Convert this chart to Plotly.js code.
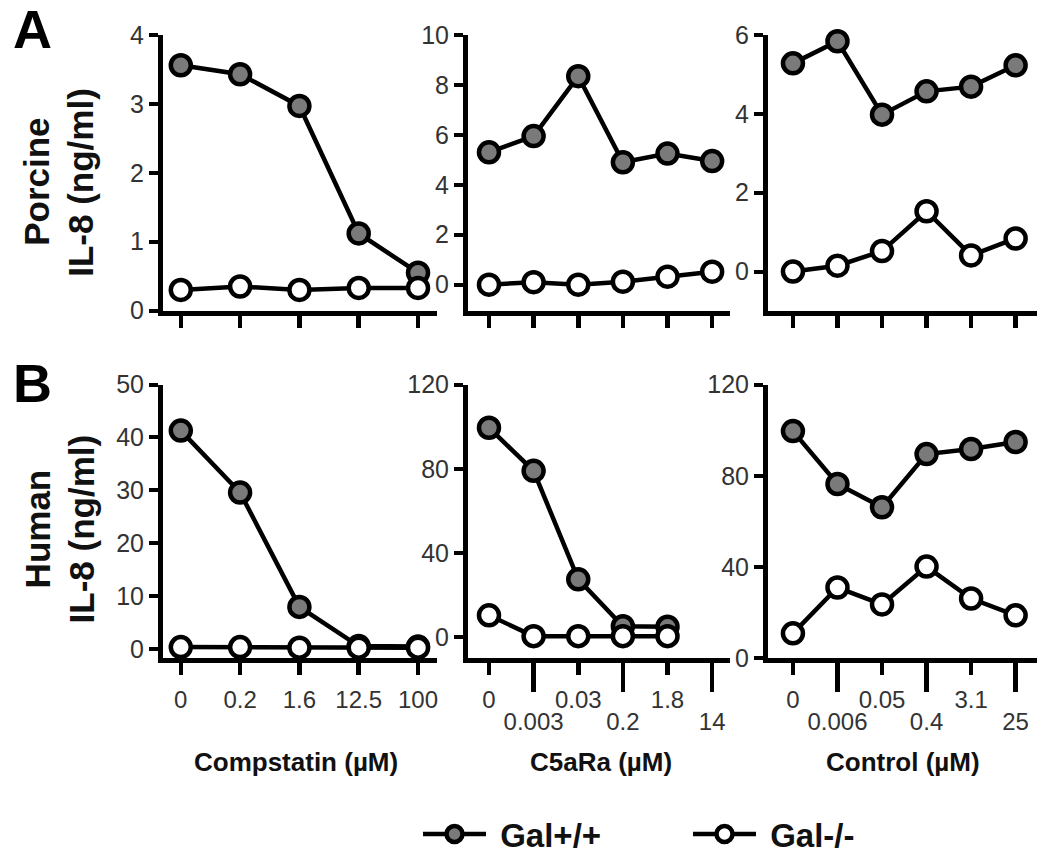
<!DOCTYPE html>
<html>
<head>
<meta charset="utf-8">
<script src="https://cdn.plot.ly/plotly-3.0.1.min.js"></script>
<style>html,body{margin:0;padding:0;background:#fff;}#chart{width:1050px;height:862px;}</style>
</head>
<body>
<div id="chart"></div>
<script>
// ---- categories (tick labels) ----
const compstatinX = ['0', '0.2', '1.6', '12.5', '100'];
const c5aRaX = ['0', '0.003', '0.03', '0.2', '1.8', '14'];
const controlX = ['0', '0.006', '0.05', '0.4', '3.1', '25'];

// ---- Porcine IL-8 (ng/ml) ----
const porcineCompGalPos = [3.56, 3.43, 2.97, 1.12, 0.55];
const porcineCompGalNeg = [0.30, 0.35, 0.30, 0.33, 0.33];
const porcineC5aGalPos = [5.3, 5.95, 8.35, 4.9, 5.25, 4.95];
const porcineC5aGalNeg = [0.0, 0.1, 0.0, 0.12, 0.32, 0.52];
const porcineCtrlGalPos = [5.28, 5.84, 3.98, 4.57, 4.69, 5.23];
const porcineCtrlGalNeg = [0.0, 0.15, 0.52, 1.53, 0.41, 0.84];

// ---- Human IL-8 (ng/ml) ----
const humanCompGalPos = [41.3, 29.6, 8.0, 0.6, 0.5];
const humanCompGalNeg = [0.4, 0.4, 0.3, 0.3, 0.3];
const humanC5aGalPos = [99.5, 79, 27.5, 5.2, 5.0];
const humanC5aGalNeg = [10.4, 0.5, 0.5, 0.5, 0.5];
const humanCtrlGalPos = [99.6, 76.4, 66.2, 89.5, 91.7, 94.8];
const humanCtrlGalNeg = [10.9, 31, 23.6, 40.2, 26.2, 18.8];

const seriesNames = ['Gal+/+', 'Gal-/-'];
const panelTitles = ['Compstatin (µM)', 'C5aRa (µM)', 'Control (µM)'];

// ---- layout helpers ----
const W = 1050, H = 862;
const px = v => v / W;
const py = v => 1 - v / H;
const FONT = 'Liberation Sans, Arial, Helvetica, sans-serif';

const colDom = [[163, 437], [468, 730], [768, 1037]];
const rowDom = [[35, 311], [385, 659]];
const xRanges = [[-0.30, 4.32], [-0.47, 5.40], [-0.56, 5.48]];
const yRanges = [[0, 4], [-1.04, 10], [-0.99, 6], [-1.7, 50], [-10, 120], [0, 120]];
const yTicks = [[0,1,2,3,4],[0,2,4,6,8,10],[0,2,4,6],[0,10,20,30,40,50],[0,40,80,120],[0,40,80,120]];

const cats = [compstatinX, c5aRaX, controlX];
const data = [
  [porcineCompGalPos, porcineCompGalNeg],
  [porcineC5aGalPos, porcineC5aGalNeg],
  [porcineCtrlGalPos, porcineCtrlGalNeg],
  [humanCompGalPos, humanCompGalNeg],
  [humanC5aGalPos, humanC5aGalNeg],
  [humanCtrlGalPos, humanCtrlGalNeg]
];

const traces = [];
const layout = {
  width: W, height: H,
  margin: {l: 0, r: 0, t: 0, b: 0},
  paper_bgcolor: '#fff', plot_bgcolor: 'rgba(0,0,0,0)',
  font: {family: FONT, color: '#000'},
  showlegend: true,
  legend: {
    orientation: 'h', x: px(418), y: py(807), xanchor: 'left', yanchor: 'top',
    font: {family: FONT, size: 33, weight: 'bold', color: '#111'},
    itemwidth: 63, entrywidth: 192, bgcolor: 'rgba(0,0,0,0)'
  },
  annotations: [],
};

for (let p = 0; p < 6; p++) {
  const r = Math.floor(p / 3), c = p % 3;
  const idx = p + 1;
  const xa = 'xaxis' + (idx === 1 ? '' : idx);
  const ya = 'yaxis' + (idx === 1 ? '' : idx);
  const xr = 'x' + (idx === 1 ? '' : idx);
  const yr = 'y' + (idx === 1 ? '' : idx);
  const catList = cats[c];
  const bottom = r === 1;
  const stagger = bottom && c > 0;
  layout[xa] = {
    domain: [px(colDom[c][0]), px(colDom[c][1])],
    anchor: yr, type: 'category', categoryarray: catList, categoryorder: 'array',
    range: xRanges[c], showline: true, linewidth: 5, linecolor: '#000',
    ticks: 'outside', ticklen: 12, tickwidth: 4.5, tickcolor: '#000',
    tickmode: 'array',
    tickvals: stagger ? catList.filter((_, i) => i % 2 === 0) : catList,
    ticktext: stagger ? catList.filter((_, i) => i % 2 === 0) : catList,
    showticklabels: bottom, ticklabelstandoff: 4,
    tickfont: {family: FONT, size: 24, color: '#333'},
    showgrid: false, zeroline: false, fixedrange: true
  };
  layout[ya] = {
    domain: [py(rowDom[r][1]), py(rowDom[r][0])],
    anchor: xr, range: yRanges[p], tickmode: 'array', tickvals: yTicks[p],
    showline: true, linewidth: 5, linecolor: '#000',
    ticks: 'outside', ticklen: 9, tickwidth: 4, tickcolor: '#000',
    tickfont: {family: FONT, size: 25, color: '#333'},
    showgrid: false, zeroline: false, fixedrange: true
  };
  const series = data[p];
  for (let s = 0; s < 2; s++) {
    traces.push({
      type: 'scatter', mode: 'lines+markers',
      x: catList.slice(0, series[s].length), y: series[s],
      xaxis: xr, yaxis: yr, name: '\u00a0' + seriesNames[s],
      legendgroup: seriesNames[s], showlegend: p === 0,
      line: {color: '#000', width: 4.5},
      marker: {size: 20, color: s === 0 ? '#7a7a7a' : '#ffffff', line: {color: '#000', width: 4.5}},
      cliponaxis: false, hoverinfo: 'skip'
    });
  }
}

// staggered (long-tick) labels on overlay axes for the lower C5aRa and Control panels
[[5, 7], [6, 8]].forEach(([base, ov]) => {
  const c = base - 4;
  const catList = cats[c];
  const odd = catList.filter((_, i) => i % 2 === 1);
  layout['xaxis' + ov] = {
    overlaying: 'x' + base, anchor: 'y' + base,
    domain: [px(colDom[c][0]), px(colDom[c][1])],
    type: 'category', categoryarray: catList, categoryorder: 'array',
    range: xRanges[c], showline: false,
    ticks: 'outside', ticklen: 33, tickwidth: 4.5, tickcolor: '#000',
    tickmode: 'array', tickvals: odd, ticktext: odd, ticklabelstandoff: 9,
    tickfont: {family: FONT, size: 24, color: '#333'},
    showgrid: false, zeroline: false, fixedrange: true
  };
  traces.push({type: 'scatter', mode: 'markers', x: odd, y: odd.map(() => null),
    xaxis: 'x' + ov, yaxis: 'y' + base, showlegend: false, hoverinfo: 'skip',
    marker: {opacity: 0}});
});

// axis titles and panel labels
const titleCenters = [296, 601, 903];
panelTitles.forEach((t, i) => layout.annotations.push({
  xref: 'paper', yref: 'paper', x: px(titleCenters[i]), y: py(763),
  xanchor: 'center', yanchor: 'middle', showarrow: false, text: t,
  font: {family: FONT, size: 26, weight: 'bold', color: '#111'}
}));
[['A', 32, 29], ['B', 32, 383]].forEach(([t, x, y]) => layout.annotations.push({
  xref: 'paper', yref: 'paper', x: px(x), y: py(y), xanchor: 'center', yanchor: 'middle',
  showarrow: false, text: t, font: {family: FONT, size: 54, weight: 'bold', color: '#000'}
}));
[['Porcine', 37, 182], ['IL-8 (ng/ml)', 81, 183], ['Human', 37, 530], ['IL-8 (ng/ml)', 81, 530]].forEach(([t, x, y]) =>
  layout.annotations.push({
    xref: 'paper', yref: 'paper', x: px(x), y: py(y), xanchor: 'center', yanchor: 'middle',
    showarrow: false, text: t, textangle: -90,
    font: {family: FONT, size: 35, weight: 'bold', color: '#111'}
  }));

Plotly.newPlot('chart', traces, layout, {displayModeBar: false, staticPlot: true});
</script>
</body>
</html>
